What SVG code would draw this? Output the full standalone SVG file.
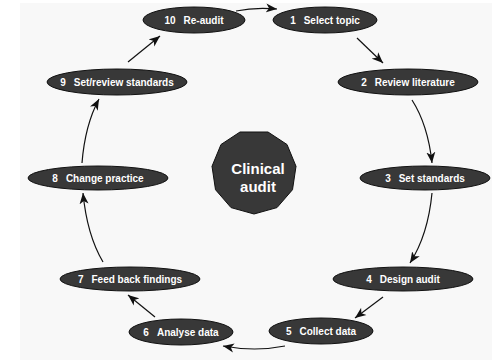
<svg xmlns="http://www.w3.org/2000/svg" width="492" height="361" viewBox="0 0 492 361">
<style>
.n{fill:#383838;stroke:#111;stroke-width:1}
.t{font-family:"Liberation Sans",Arial,sans-serif;font-size:10px;font-weight:bold;fill:#fff;text-anchor:middle}
.c{font-family:"Liberation Sans",Arial,sans-serif;font-size:15px;font-weight:bold;fill:#fff;text-anchor:middle}
.e{fill:none;stroke:#111;stroke-width:1.2}
</style>
<defs>
<marker id="ah" markerUnits="userSpaceOnUse" markerWidth="12" markerHeight="10" viewBox="0 0 12 10" refX="11" refY="5" orient="auto">
<path d="M0,0.5 L11,5 L0,9.5 L3,5 z" fill="#111"/>
</marker>
</defs>
<rect x="0" y="0" width="492" height="361" fill="#fff"/>
<rect x="20" y="3" width="472" height="357" fill="#f8f8f8"/>
<g id="connectors">
<path class="e" marker-end="url(#ah)" d="M236,11 Q255,7 277,9"/>
<path class="e" marker-end="url(#ah)" d="M357,38 L383,63"/>
<path class="e" marker-end="url(#ah)" d="M412,100 Q428,125 432,163"/>
<path class="e" marker-end="url(#ah)" d="M432,193 Q428,235 410,263"/>
<path class="e" marker-end="url(#ah)" d="M383,297 L355,318"/>
<path class="e" marker-end="url(#ah)" d="M285,346 Q255,352 223,346"/>
<path class="e" marker-end="url(#ah)" d="M155,317 L128,295"/>
<path class="e" marker-end="url(#ah)" d="M103,262 Q87,235 83,193"/>
<path class="e" marker-end="url(#ah)" d="M82,163 Q85,125 99,99"/>
<path class="e" marker-end="url(#ah)" d="M128,62 L160,36"/>
</g>
<g id="center">
<polygon class="n" points="268,132 287,144.5 296,166.3 292.5,189.7 277,207.6 254,214 231,207.6 215.5,189.7 212,166.3 221,144.5 240,132"/>
<text class="c" x="258" y="174">Clinical</text>
<text class="c" x="258" y="192">audit</text>
</g>
<g id="n1"><ellipse class="n" cx="325" cy="20" rx="52" ry="13"/><text class="t" x="325" y="24">1<tspan dx="8">Select topic</tspan></text></g>
<g id="n2"><ellipse class="n" cx="408" cy="82" rx="70" ry="13"/><text class="t" x="408" y="86">2<tspan dx="8">Review literature</tspan></text></g>
<g id="n3"><ellipse class="n" cx="425" cy="178" rx="65" ry="12"/><text class="t" x="425" y="182">3<tspan dx="8">Set standards</tspan></text></g>
<g id="n4"><ellipse class="n" cx="403" cy="279" rx="70" ry="12"/><text class="t" x="403" y="283">4<tspan dx="8">Design audit</tspan></text></g>
<g id="n5"><ellipse class="n" cx="321" cy="331" rx="52" ry="13"/><text class="t" x="321" y="335">5<tspan dx="8">Collect data</tspan></text></g>
<g id="n6"><ellipse class="n" cx="181" cy="332" rx="52" ry="13"/><text class="t" x="181" y="336">6<tspan dx="8">Analyse data</tspan></text></g>
<g id="n7"><ellipse class="n" cx="130" cy="279" rx="70" ry="12"/><text class="t" x="130" y="283">7<tspan dx="8">Feed back findings</tspan></text></g>
<g id="n8"><ellipse class="n" cx="98" cy="178" rx="70" ry="12"/><text class="t" x="98" y="182">8<tspan dx="8">Change practice</tspan></text></g>
<g id="n9"><ellipse class="n" cx="117" cy="82" rx="70" ry="13"/><text class="t" x="117" y="86">9<tspan dx="8">Set/review standards</tspan></text></g>
<g id="n10"><ellipse class="n" cx="194" cy="20" rx="51" ry="13"/><text class="t" x="194" y="24">10<tspan dx="8">Re-audit</tspan></text></g>
</svg>
